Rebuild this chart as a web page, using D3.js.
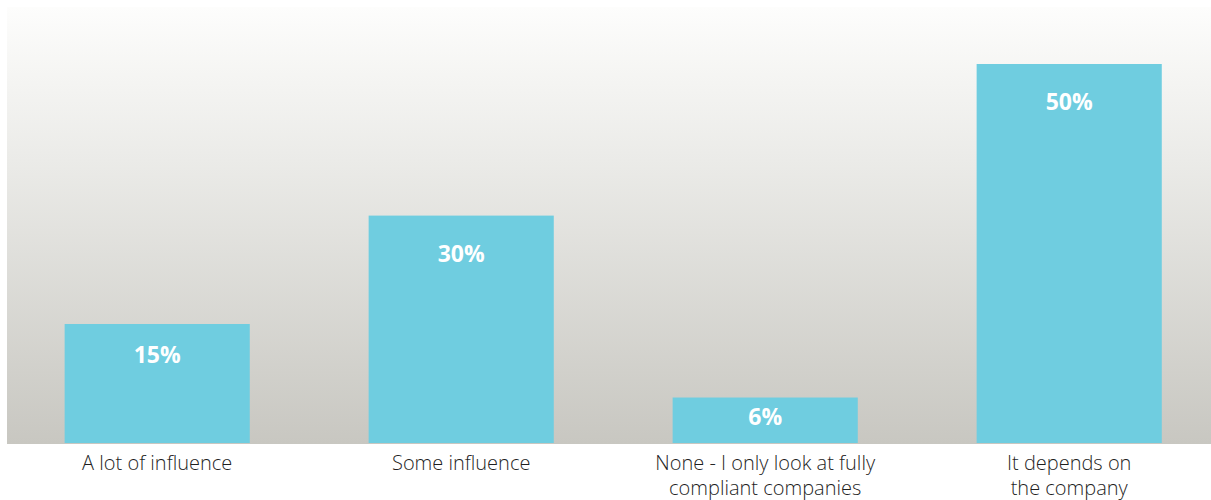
<!DOCTYPE html>
<html>
<head>
<meta charset="utf-8">
<script src="https://cdn.jsdelivr.net/npm/d3@7"></script>
<style>
  html, body { margin: 0; padding: 0; background: #fff; }
  svg { display: block; }
</style>
</head>
<body>
<svg width="1211" height="500"></svg>
<script>
const categories = [
  ["A lot of influence"],
  ["Some influence"],
  ["None - I only look at fully", "compliant companies"],
  ["It depends on", "the company"]
];
const values = [15.7, 30, 6, 50];
const valueLabels = ["15%", "30%", "6%", "50%"];

const plot = { left: 7, right: 1211, top: 7, bottom: 444 };
const baseline = 443;

const svg = d3.select("svg");

// background gradient panel
const defs = svg.append("defs");
const grad = defs.append("linearGradient")
  .attr("id", "bg").attr("x1", 0).attr("y1", 0).attr("x2", 0).attr("y2", 1);
grad.append("stop").attr("offset", "0%").attr("stop-color", "#fdfdfc");
grad.append("stop").attr("offset", "35%").attr("stop-color", "#ebebe8");
grad.append("stop").attr("offset", "100%").attr("stop-color", "#c8c7c1");

svg.append("rect")
  .attr("x", plot.left).attr("y", plot.top)
  .attr("width", plot.right - plot.left)
  .attr("height", plot.bottom - plot.top)
  .attr("fill", "url(#bg)");

const keys = categories.map((c, i) => i);

const x = d3.scaleBand()
  .domain(keys)
  .range([5.2, 1221.2])
  .paddingInner(0.391)
  .paddingOuter(0.1955);

const y = d3.scaleLinear()
  .domain([0, 50])
  .range([baseline, 64]);

svg.append("g")
  .selectAll("rect")
  .data(values)
  .enter()
  .append("rect")
  .attr("x", (d, i) => x(i))
  .attr("y", d => y(d))
  .attr("width", x.bandwidth())
  .attr("height", d => y(0) - y(d))
  .attr("fill", "#6fcde0");

// value labels: pushed down from the bar top, less on short bars
const labelOffset = d => Math.min(46, 20 + 0.16 * (y(0) - y(d)));

svg.append("g")
  .selectAll("text")
  .data(values)
  .enter()
  .append("text")
  .attr("x", (d, i) => x(i) + x.bandwidth() / 2)
  .attr("y", d => y(d) + labelOffset(d))
  .attr("text-anchor", "middle")
  .attr("fill", "#ffffff")
  .style("font-family", "'Open Sans', sans-serif")
  .style("font-weight", "700")
  .style("font-size", "23px")
  .text((d, i) => valueLabels[i]);

// category labels
const cat = svg.append("g")
  .selectAll("text")
  .data(categories)
  .enter()
  .append("text")
  .attr("x", (d, i) => x(i) + x.bandwidth() / 2)
  .attr("y", 470)
  .attr("text-anchor", "middle")
  .attr("fill", "#1f1f1f")
  .style("font-family", "'Open Sans', sans-serif")
  .style("font-weight", "300")
  .style("font-size", "20px");

cat.selectAll("tspan")
  .data(d => d)
  .enter()
  .append("tspan")
  .attr("x", function() { return this.parentNode.getAttribute("x"); })
  .attr("dy", (d, i) => i === 0 ? 0 : 25)
  .text(d => d);
</script>
</body>
</html>
